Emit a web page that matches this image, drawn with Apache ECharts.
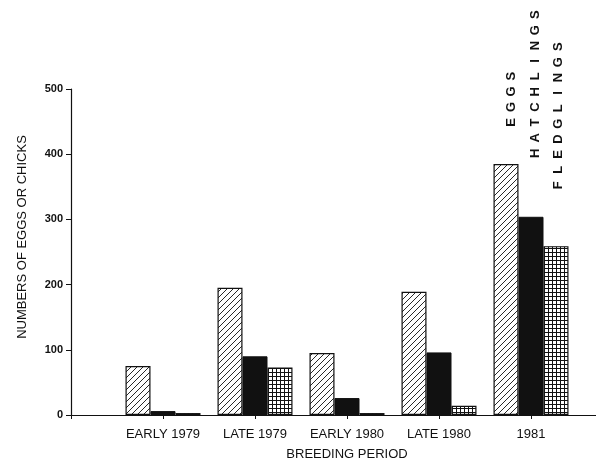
<!DOCTYPE html>
<html>
<head>
<meta charset="utf-8">
<script src="https://cdn.jsdelivr.net/npm/echarts@6/dist/echarts.min.js"></script>
<style>
  html, body { margin: 0; padding: 0; background: #fff; }
  #chart { width: 596px; height: 460px; }
</style>
</head>
<body>
<div id="chart"></div>
<script>
// breeding periods (blank slots at both ends keep the spacing of the original axis)
var periods = ['', 'EARLY 1979', 'LATE 1979', 'EARLY 1980', 'LATE 1980', '1981', '']
var eggs = [null, 75, 195, 95, 189, 385, null]
var hatchlings = [null, 6, 90, 26, 96, 304, null]
var fledglings = [null, 3, 73, 3, 14, 259, null]
var yTicks = [0, 100, 200, 300, 400, 500]

var ink = '#111'
var font = 'Liberation Sans, Arial, sans-serif'

// diagonal hatching for eggs
function hatchPattern () {
  var c = document.createElement('canvas')
  var s = 6
  c.width = s
  c.height = s
  var ctx = c.getContext('2d')
  ctx.fillStyle = '#fff'
  ctx.fillRect(0, 0, s, s)
  ctx.strokeStyle = ink
  ctx.lineWidth = 0.9
  ctx.beginPath()
  ctx.moveTo(-1, s + 1); ctx.lineTo(s + 1, -1)
  ctx.moveTo(-1, 1); ctx.lineTo(1, -1)
  ctx.moveTo(s - 1, s + 1); ctx.lineTo(s + 1, s - 1)
  ctx.stroke()
  return c
}

// small squares for fledglings
function gridPattern () {
  var c = document.createElement('canvas')
  var s = 4
  c.width = s
  c.height = s
  var ctx = c.getContext('2d')
  ctx.fillStyle = '#fff'
  ctx.fillRect(0, 0, s, s)
  ctx.fillStyle = ink
  ctx.fillRect(0, 0, s, 1)
  ctx.fillRect(0, 0, 1, s)
  return c
}

// vertical spaced-out legend words
function word (text, x, bottom) {
  var step = 15.4
  var kids = text.split('').map(function (ch, i) {
    return {
      type: 'text',
      x: i * step,
      y: 0,
      style: {
        text: ch,
        font: 'bold 13px ' + font,
        fill: ink,
        align: 'center',
        verticalAlign: 'middle'
      }
    }
  })
  return {
    type: 'group',
    x: x,
    y: bottom - step / 2,
    rotation: Math.PI / 2,
    children: kids
  }
}

var myChart = echarts.init(document.getElementById('chart'))

var barBase = {
  type: 'bar',
  barWidth: 25,
  barGap: '0%',
  animation: false
}

var option = {
  backgroundColor: '#fff',
  grid: {
    left: 71,
    top: 89,
    width: 552,
    height: 326,
    outerBoundsMode: 'none'
  },
  xAxis: {
    type: 'category',
    data: periods,
    boundaryGap: false,
    name: 'BREEDING PERIOD',
    nameLocation: 'middle',
    nameGap: 33,
    nameTextStyle: { color: ink, fontSize: 13, fontFamily: font },
    axisLine: { lineStyle: { color: ink, width: 1.2 } },
    axisTick: { length: 4, interval: 0, lineStyle: { color: ink } },
    axisLabel: { interval: 0, margin: 13, color: ink, fontSize: 13, fontFamily: font },
    splitLine: { show: false }
  },
  yAxis: {
    type: 'value',
    min: yTicks[0],
    max: yTicks[yTicks.length - 1],
    interval: 100,
    name: 'NUMBERS OF EGGS OR CHICKS',
    nameLocation: 'middle',
    nameGap: 42,
    nameTextStyle: { color: ink, fontSize: 13, fontFamily: font, padding: [0, 0, 0, 30] },
    axisLine: { show: true, lineStyle: { color: ink, width: 1.2 } },
    axisTick: { show: true, length: 5, lineStyle: { color: ink } },
    axisLabel: { margin: 8, color: ink, fontSize: 11, fontWeight: 'bold', fontFamily: font },
    splitLine: { show: false }
  },
  series: [
    Object.assign({}, barBase, {
      name: 'EGGS',
      data: eggs,
      itemStyle: { color: { image: hatchPattern(), repeat: 'repeat' }, borderColor: ink, borderWidth: 1.2 }
    }),
    Object.assign({}, barBase, {
      name: 'HATCHLINGS',
      data: hatchlings,
      itemStyle: { color: ink, borderColor: ink, borderWidth: 1 }
    }),
    Object.assign({}, barBase, {
      name: 'FLEDGLINGS',
      data: fledglings,
      itemStyle: { color: { image: gridPattern(), repeat: 'repeat' }, borderColor: ink, borderWidth: 1.2 }
    })
  ],
  graphic: [
    word('EGGS', 511, 130),
    word('HATCHLINGS', 535, 161),
    word('FLEDGLINGS', 558, 193)
  ]
}

myChart.setOption(option)
</script>
</body>
</html>
